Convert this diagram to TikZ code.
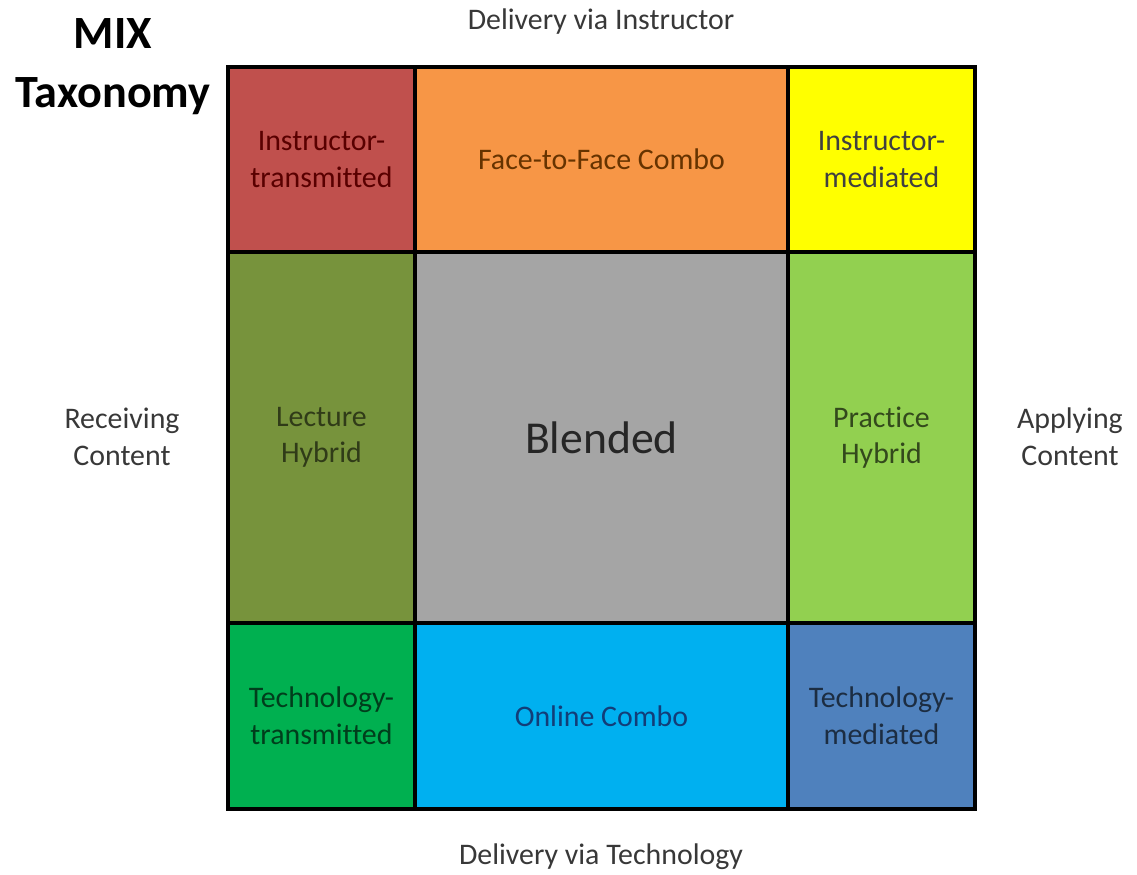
\documentclass[tikz,border=0pt]{standalone}
\usepackage{fontspec}
\setmainfont{Carlito}[Ligatures=NoCommon]
\definecolor{redcell}{HTML}{C0504D}
\definecolor{orangecell}{HTML}{F79646}
\definecolor{yellowcell}{HTML}{FFFF00}
\definecolor{olivecell}{HTML}{77933C}
\definecolor{greycell}{HTML}{A5A5A5}
\definecolor{limecell}{HTML}{92D050}
\definecolor{greencell}{HTML}{00B050}
\definecolor{cyancell}{HTML}{00B0F0}
\definecolor{bluecell}{HTML}{4F81BD}
\definecolor{navytext}{HTML}{123D78}
\begin{document}
\begin{tikzpicture}[x=0.02cm,y=-0.02cm,
  cell/.style={draw=black,line width=1.8pt,inner sep=0pt,align=center,
    font=\fontsize{17}{20.8}\selectfont},
  side/.style={align=center,text=black!78,font=\fontsize{17}{21}\selectfont}]
\useasboundingbox (0,0) rectangle (1137,875);
% title
\node[align=center,font=\fontsize{26.3}{33.6}\selectfont\bfseries] (title) at (113,67) {MIX\\Taxonomy};
% top row
\node[cell,fill=redcell,text=red!35!black,minimum width=3.74cm,minimum height=3.70cm] (it) at (321.5,159.5) {Instructor-\\transmitted};
\node[cell,fill=orangecell,text=orange!40!black,minimum width=7.46cm,minimum height=3.70cm] (ffc) at (601.5,159.5) {Face-to-Face Combo};
\node[cell,fill=yellowcell,text=black!75,minimum width=3.74cm,minimum height=3.70cm] (im) at (881.5,159.5) {Instructor-\\mediated};
% middle row
\node[cell,fill=olivecell,text=olivecell!40!black,minimum width=3.74cm,minimum height=7.42cm] (lh) at (321.5,437.5) {Lecture\\Hybrid};
\node[cell,fill=greycell,text=black!85,minimum width=7.46cm,minimum height=7.42cm,font=\fontsize{26}{30}\selectfont] (bl) at (601.5,437.5) {Blended};
\node[cell,fill=limecell,text=limecell!35!black,minimum width=3.74cm,minimum height=7.42cm] (ph) at (881.5,437.5) {Practice\\Hybrid};
% bottom row
\node[cell,fill=greencell,text=greencell!35!black,minimum width=3.74cm,minimum height=3.72cm] (tt) at (321.5,716) {Technology-\\transmitted};
\node[cell,fill=cyancell,text=navytext,minimum width=7.46cm,minimum height=3.72cm] (oc) at (601.5,716) {Online Combo};
\node[cell,fill=bluecell,text=bluecell!35!black,minimum width=3.74cm,minimum height=3.72cm] (tm) at (881.5,716) {Technology-\\mediated};
% axis labels
\node[side] (top) at (601,22) {Delivery via Instructor};
\node[side] (bottom) at (601,857) {Delivery via Technology};
\node[side] (left) at (122,437) {Receiving\\Content};
\node[side] (right) at (1070,437) {Applying\\Content};
\end{tikzpicture}
\end{document}
